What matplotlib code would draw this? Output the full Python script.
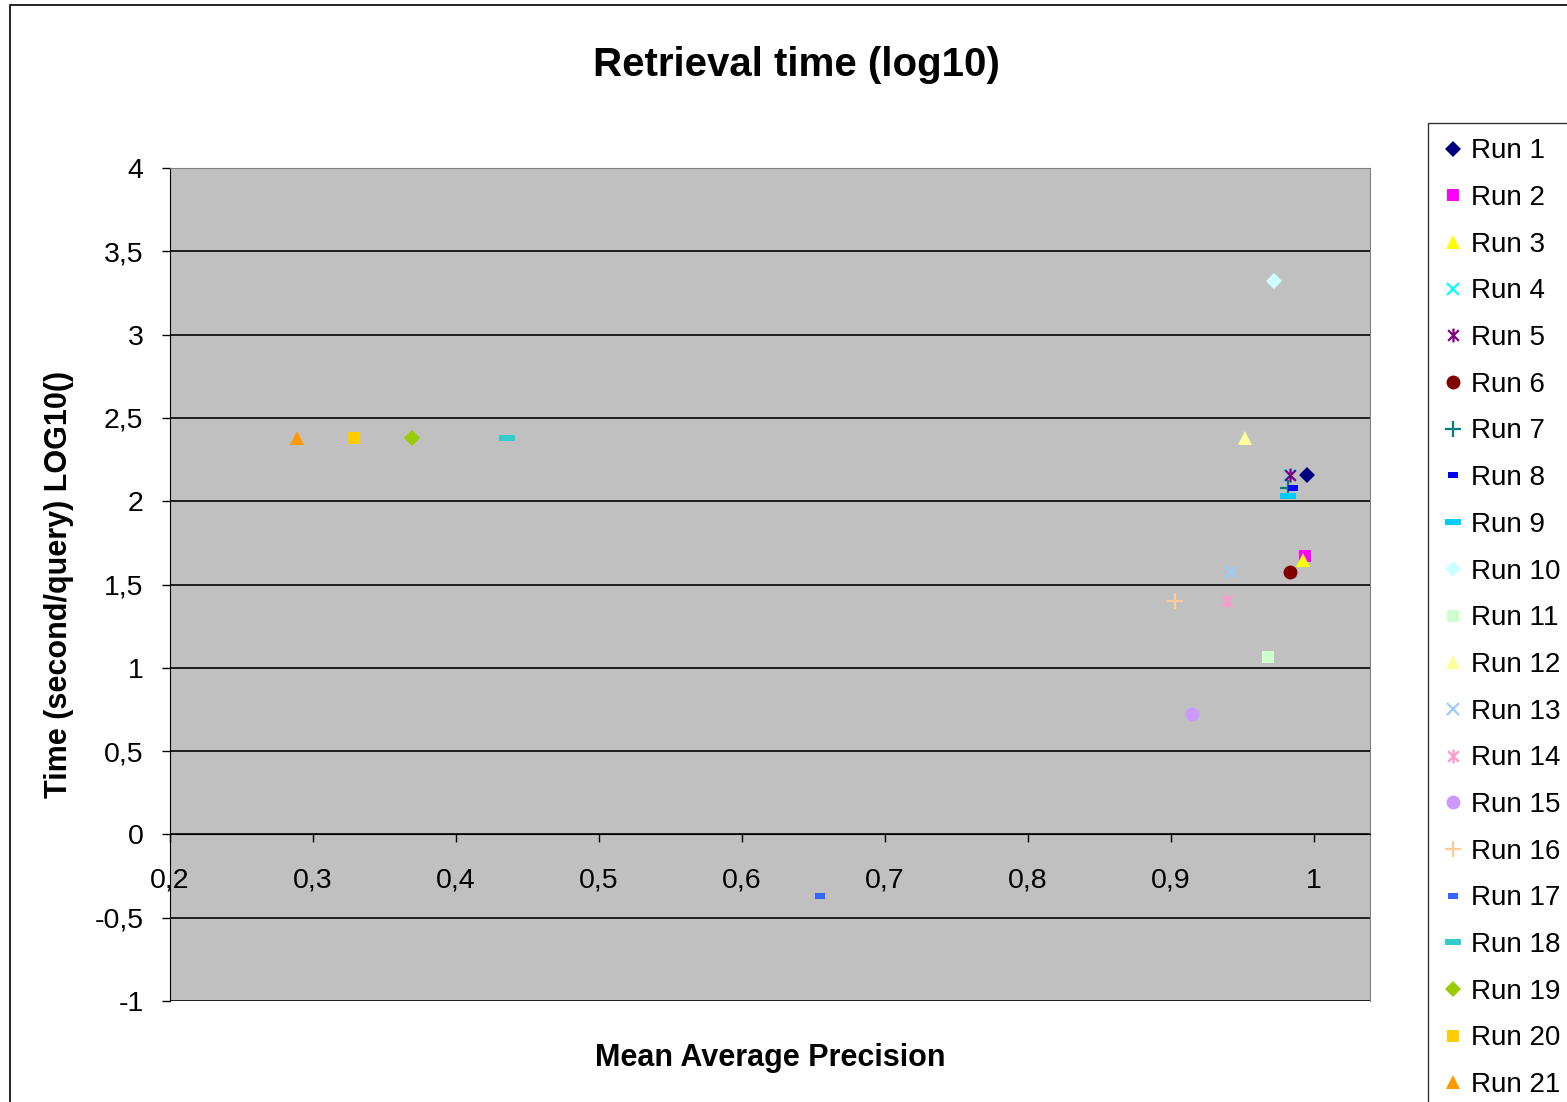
import matplotlib.pyplot as plt
import numpy as np
from matplotlib.path import Path
from matplotlib.patches import Rectangle
from matplotlib.ticker import FuncFormatter, MultipleLocator

plt.rcParams['font.family'] = ['Liberation Sans', 'DejaVu Sans']

# values
runs = ['Run %d' % i for i in range(1, 22)]
map_vals = [0.995, 0.994, 0.992, 0.983, 0.983, 0.983, 0.982, 0.985, 0.982, 0.972,
            0.968, 0.952, 0.942, 0.939, 0.915, 0.903, 0.6545, 0.4357, 0.369, 0.329, 0.289]
time_log = [2.157, 1.671, 1.65, 2.157, 2.157, 1.575, 2.08, 2.08, 2.03, 3.322,
            1.065, 2.38, 1.575, 1.40, 0.723, 1.40, -0.37, 2.38, 2.38, 2.38, 2.38]
colors = ['#000080', '#FF00FF', '#FFFF00', '#00FFFF', '#800080', '#800000', '#008080',
          '#0000FF', '#00CCFF', '#CCFFFF', '#CCFFCC', '#FFFF99', '#99CCFF', '#FF99CC',
          '#CC99FF', '#FFCC99', '#3366FF', '#33CCCC', '#99CC00', '#FFCC00', '#FF9900']

# marker shapes
star = Path([(-1, -1), (1, 1), (-1, 1), (1, -1), (0, -1.3), (0, 1.3)],
            [Path.MOVETO, Path.LINETO, Path.MOVETO, Path.LINETO, Path.MOVETO, Path.LINETO])
short_dash = [(-1, -0.55), (1, -0.55), (1, 0.55), (-1, 0.55)]
long_dash = [(-1, -0.33), (1, -0.33), (1, 0.33), (-1, 0.33)]
shapes = ['D', 's', '^', 'x', star, 'o', '+', short_dash, long_dash]
shapes = (shapes + shapes + ['D', 's', '^'])[:21]
sizes = {'D': 8, 's': 9, '^': 10, 'x': 9, 'o': 10, '+': 11}

fig = plt.figure(figsize=(15.67, 11.02), dpi=100)
ax = fig.add_axes([170/1567, 1-1001/1102, 1200/1567, 833/1102])
ax.set_facecolor('#C0C0C0')

for i in range(21):
    m = shapes[i]
    if isinstance(m, Path):
        ax.plot(map_vals[i], time_log[i], linestyle='none', marker=m, markersize=10,
                markeredgecolor=colors[i], markerfacecolor='none', markeredgewidth=1.6,
                label=runs[i], zorder=3)
    elif isinstance(m, list):
        ms = 7 if m is short_dash else 11
        ax.plot(map_vals[i], time_log[i], linestyle='none', marker=m, markersize=ms,
                color=colors[i], markeredgewidth=0, label=runs[i], zorder=3)
    elif m in ('x', '+'):
        ax.plot(map_vals[i], time_log[i], linestyle='none', marker=m, markersize=sizes[m],
                color=colors[i], markeredgewidth=1.6, label=runs[i], zorder=3)
    else:
        ax.plot(map_vals[i], time_log[i], linestyle='none', marker=m, markersize=sizes[m],
                color=colors[i], markeredgewidth=0, label=runs[i], zorder=3)

ax.set_xlim(0.2, 0.2 + 1200/1430)
ax.set_ylim(-1, 4)
ax.xaxis.set_major_locator(MultipleLocator(0.1))
ax.yaxis.set_major_locator(MultipleLocator(0.5))
comma = FuncFormatter(lambda v, p: ('%g' % round(v, 2)).replace('.', ','))
ax.xaxis.set_major_formatter(comma)
ax.yaxis.set_major_formatter(comma)
ax.set_xticks(np.arange(0.2, 1.01, 0.1))

ax.grid(axis='y', color='black', linewidth=1.2)
ax.set_axisbelow(True)
for s in ['top', 'right']:
    ax.spines[s].set_color('#808080')
ax.spines['bottom'].set_position(('data', 0))
ax.spines['bottom'].set_color('black')
ax.spines['left'].set_color('black')
ax.tick_params(axis='both', labelsize=20.5, length=6, width=1, direction='out')
ax.tick_params(axis='x', pad=18)
ax.tick_params(axis='y', pad=13)

ax.set_xlabel('Mean Average Precision', fontsize=22, fontweight='bold', labelpad=0)
ax.xaxis.set_label_coords(0.5, -0.05)
ax.set_ylabel('Time (second/query) LOG10()', fontsize=22, fontweight='bold')
ax.yaxis.set_label_coords(-0.08, 0.5)

fig.text(796/1567, 1-65/1102, 'Retrieval time (log10)', fontsize=29, fontweight='bold',
         ha='center', va='center')

leg = fig.legend(loc='upper left', bbox_to_anchor=(1428/1567, 1-123/1102), fontsize=20,
                 frameon=True, fancybox=False, edgecolor='black', handlelength=0.7,
                 handletextpad=0.3, labelspacing=0.745, borderpad=0.55, markerscale=1.0,
                 borderaxespad=0)
leg.get_frame().set_linewidth(1)

# outer chart border
fig.patches.append(Rectangle((10/1567, -0.01), 1.1, 1-5/1102+0.01, transform=fig.transFigure,
                             fill=False, edgecolor='black', linewidth=1.2))

fig.savefig('out.png', dpi=100)
